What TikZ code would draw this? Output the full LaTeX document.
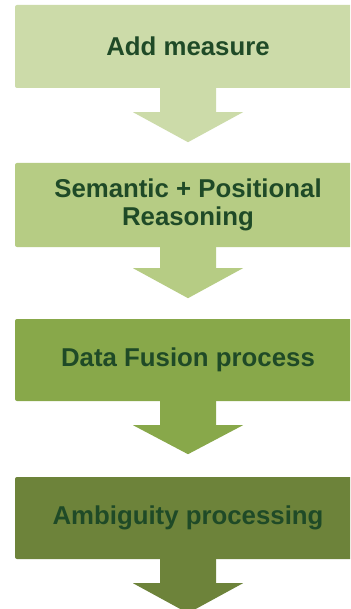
\documentclass[tikz,border=0pt]{standalone}
\usepackage{fontspec}
\setmainfont{Liberation Sans}
\definecolor{cA}{HTML}{CCDBA9}
\definecolor{cB}{HTML}{B6CC84}
\definecolor{cC}{HTML}{88A84A}
\definecolor{cD}{HTML}{6D833A}
\definecolor{txt}{HTML}{1F4A27}
\tikzset{
  box/.style={rectangle, rounded corners=2pt, minimum width=346pt, inner sep=0pt,
    align=center, text=txt, font=\fontsize{25.8pt}{29pt}\selectfont\bfseries},
}
\begin{document}
\begin{tikzpicture}[x=1pt,y=-1pt]
\clip (0,0) rectangle (350,609);
\fill[white] (0,0) rectangle (350,609);
\node[box, fill=cA, minimum height=83pt] (b1) at (188,46.5) {Add measure};
\node[box, fill=cB, minimum height=84pt] (b2) at (188,205) {Semantic + Positional\\[-1pt]Reasoning};
\node[box, fill=cC, minimum height=82pt] (b3) at (188,360) {Data Fusion process};
\node[box, fill=cD, minimum height=82pt] (b4) at (188,518) {Ambiguity processing};
\fill[cA] (b1.south) ++(-28,-0.5) -- ++(0,24.5) -- ++(-27,0) -- ++(55,30) -- ++(55,-30) -- ++(-27,0) -- ++(0,-24.5) -- cycle;
\fill[cB] (b2.south) ++(-28,-0.5) -- ++(0,21.5) -- ++(-27,0) -- ++(55,30) -- ++(55,-30) -- ++(-27,0) -- ++(0,-21.5) -- cycle;
\fill[cC] (b3.south) ++(-28,-0.5) -- ++(0,24.5) -- ++(-27,0) -- ++(55,29) -- ++(55,-29) -- ++(-27,0) -- ++(0,-24.5) -- cycle;
\fill[cD] (b4.south) ++(-28,-0.5) -- ++(0,24.5) -- ++(-27,0) -- ++(55,30) -- ++(55,-30) -- ++(-27,0) -- ++(0,-24.5) -- cycle;
\end{tikzpicture}
\end{document}
